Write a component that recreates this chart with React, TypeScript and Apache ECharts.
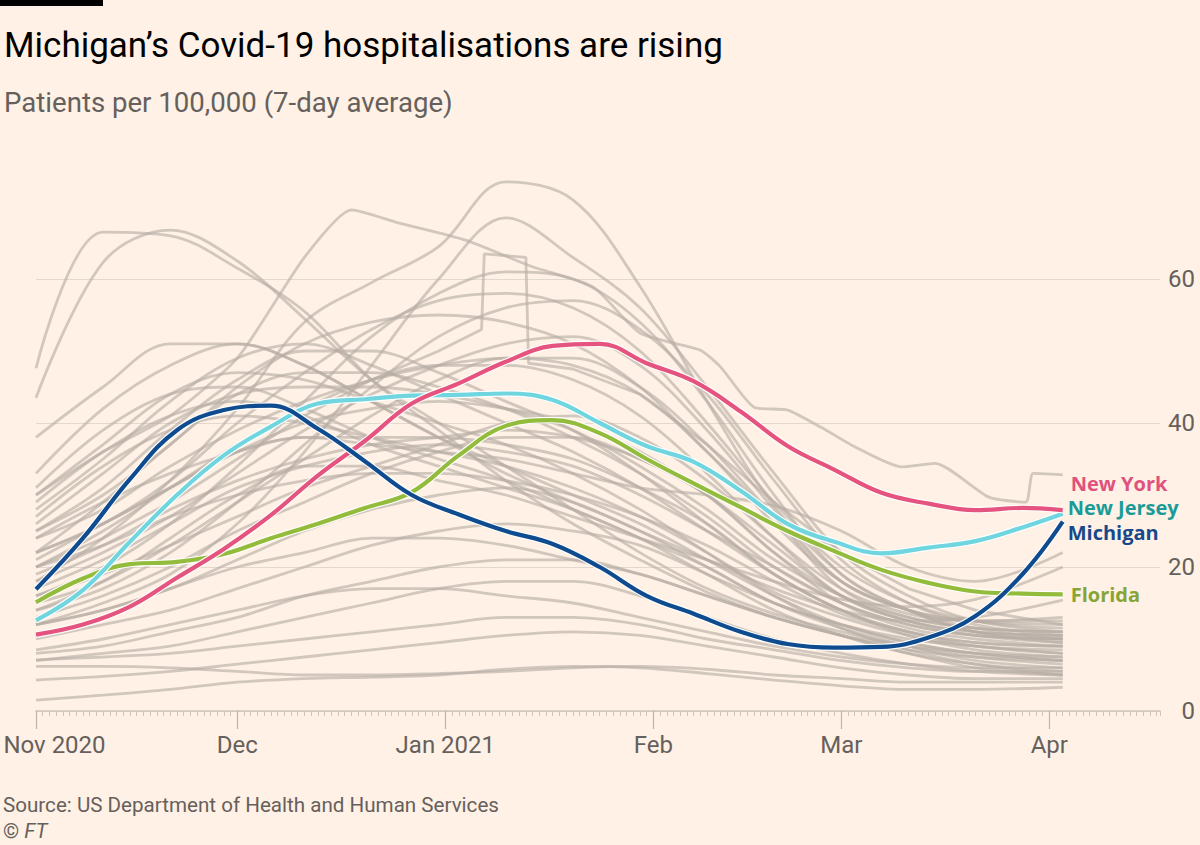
import React, { useEffect, useRef } from "react";
import * as echarts from "echarts";

// ---- axis data ----
const MONTH_TICKS = [0, 30, 61, 92, 120, 151]; // days since 1 Nov 2020
const MONTH_LABELS = ["Nov 2020", "Dec", "Jan 2021", "Feb", "Mar", "Apr"];
const X_MAX = 167.5;
const Y_TICKS = [0, 20, 40, 60];

// ---- highlighted states (days since 1 Nov 2020) ----
const HL_DAYS = [0, 7, 14, 21, 28, 35, 42, 49, 56, 63, 70, 77, 84, 91, 98, 105, 112, 119, 126, 133, 140, 147, 153];
const NEW_YORK = [10.6, 12, 14.5, 18.5, 22.5, 27.2, 32.7, 37.5, 42.7, 45.5, 48.5, 50.7, 51, 48.3, 45.8, 41.6, 36.8, 33.5, 30.3, 28.8, 27.9, 28.2, 27.9];
const NEW_JERSEY = [12.6, 16.8, 23.5, 30, 35.5, 39.5, 42.7, 43.3, 43.8, 43.9, 44.1, 43.2, 40, 36.8, 34.6, 30.6, 26, 23.5, 21.9, 22.7, 23.6, 25.5, 27.4];
const MICHIGAN = [16.9, 24, 32.2, 39, 41.8, 42.4, 39.2, 34.7, 30, 27.3, 25, 23.2, 20, 16, 13.5, 11, 9.3, 8.8, 8.9, 10.2, 13.2, 19, 26.3];
const FLORIDA = [15.1, 18.4, 20.4, 20.7, 21.8, 24, 26, 28.2, 30.4, 35.5, 39.6, 40.4, 38.6, 35, 31.6, 28.3, 25, 22.2, 19.6, 17.8, 16.6, 16.3, 16.2];

// ---- other states (grey) ----
const GREY_DAYS = [0, 10, 20, 30, 40, 50, 60, 70, 80, 90, 100, 110, 120, 130, 140, 153];
const GREY_LINES: number[][] = [
  [47.6, 66.5, 66, 61.5, 55.5, 46, 39, 32, 26, 21, 16.5, 13, 10.5, 8, 6.5, 5.5],
  [43.5, 62.3, 66.8, 62.5, 54.5, 46, 40, 34, 28, 22, 17, 13.5, 11, 9, 7.5, 6.5],
  [18, 24, 32, 42, 54, 59.5, 64.5, 73.5, 71, 59, 43, 28.5, 19, 14, 11, 9.5],
  [12, 15, 19, 26, 36, 48, 60, 68.5, 63, 56, 45, 33, 22, 16, 12.5, 11],
  [16, 20, 26, 34, 43, 52, 58, 61, 60, 54, 43, 30, 19, 14, 11, 10],
  [22, 26, 32, 40, 47, 53, 57, 58, 56, 50, 40, 29, 20, 15, 12.5, 11.5],
  [14, 17, 22, 29, 37, 45, 52, 56, 57, 53, 44, 32, 21, 15, 12, 10.5],
  [25, 30, 37, 45, 51, 54, 55, 54, 51, 45, 36, 27, 18, 14, 11.5, 10],
  [33, 42, 48, 51, 48, 43, 38, 33, 29, 25, 20, 15, 11.5, 9, 7, 6],
  [28, 35, 43, 49, 51, 48, 44, 40, 36, 31, 25, 19, 14, 11, 9.5, 9],
  [25, 31, 39, 46, 50, 50, 47, 43, 39, 33, 26, 19, 14, 10.5, 8.5, 7.5],
  [30, 37, 44, 47, 46, 43, 40, 37, 33, 28, 22, 16, 11.5, 8.5, 6.5, 5],
  [22, 29, 37, 44, 47, 47, 45, 42, 38, 33, 27, 20, 15, 12, 10.5, 10],
  [26, 33, 40, 44, 45, 45, 44, 42, 39, 34, 28, 21, 16, 13, 11.5, 11],
  [20, 25, 31, 37, 42, 46, 48, 48, 46, 41, 33, 24, 16, 12.5, 11, 10.5],
  [24, 28, 34, 39, 43, 46, 48, 49, 48, 44, 36, 26, 18, 14, 12.5, 12],
  [18, 22, 27, 33, 39, 44, 48, 51, 52, 48, 39, 28, 18, 14, 12.5, 12.5],
  [15, 18, 23, 29, 35, 41, 46, 49, 49, 45, 37, 27, 17, 13, 11.5, 11],
  [21, 26, 31, 36, 40, 42, 43, 42, 40, 36, 30, 22, 16, 12.5, 10.5, 9.5],
  [24, 29, 33, 36, 38, 38, 38, 37, 35, 31, 26, 19, 14, 11, 9, 8],
  [19, 23, 28, 32, 35, 37, 38, 39, 38, 35, 30, 23, 16, 12.5, 11, 10.5],
  [16, 19, 23, 27, 31, 34, 37, 40, 41, 38, 32, 24, 17, 13.5, 12.5, 13],
  [13, 16, 20, 25, 29, 33, 36, 38, 38, 35, 30, 22, 15, 11.5, 10, 9],
  [29, 36, 41, 43, 41, 37, 34, 31, 28, 24, 20, 15, 12, 9.5, 8, 7],
  [27, 34, 39, 41, 40, 38, 36, 34, 31, 27, 22, 16.5, 13, 10.5, 9, 8.5],
  [31, 39, 44, 45, 42, 38, 35, 32, 28, 24, 19, 14, 10.5, 8, 6, 5],
  [10, 12, 14, 17, 20, 23, 25, 26, 25, 23, 19, 15, 12, 10, 9, 8],
  [8, 9, 11, 13, 16, 18, 20, 21, 21, 19, 16, 13, 10.5, 8.5, 7.5, 7],
  [12, 14, 17, 20, 22, 24, 24, 23, 21, 19, 16, 13, 10.5, 9, 8, 7.5],
  [7, 8, 9, 11, 13, 15, 17, 18, 18, 16, 13, 10, 8, 6.5, 5.5, 5],
  [6.2, 6.2, 6, 5.5, 5, 5, 5.2, 5.5, 6, 6.2, 5.8, 5, 4.5, 4, 4, 4],
  [1.5, 2.2, 3, 4, 4.5, 4.7, 5, 5.8, 6.2, 6, 5.2, 4.3, 3.5, 3, 3, 3.3],
  [4.3, 4.8, 5.5, 6.5, 7.5, 8.5, 9.5, 10.5, 11, 10.5, 9, 7.5, 6, 5, 4.5, 4.5],
  [8.5, 10, 12, 14, 16, 17, 17, 16, 15, 13, 11, 9, 7.5, 6.5, 6, 6],
  [7.1, 7.5, 8, 9, 10, 11, 12, 13, 13, 12, 10, 8.5, 7, 6, 5.5, 5.5],
  [22, 26, 31, 36, 38, 37, 36, 35, 33, 31, 30, 28.5, 25, 20, 18, 22],
  [14, 18, 24, 30, 34, 34, 32, 30, 27, 24, 21, 18, 15.5, 14.5, 15.5, 20],
  [12, 14, 17, 21, 25, 28, 30, 31, 29, 25, 21, 17, 14, 12.5, 13, 15.4],
  [17, 21, 26, 31, 34, 36, 37, 36, 34, 30, 25, 20, 15, 12, 10.5, 10],
  [20, 23, 27, 30, 32, 33, 33, 32, 30, 27, 23, 18, 13.5, 11, 9.5, 9],
  [38, 45, 51, 51, 48, 43, 38, 34, 30, 26, 21, 16, 12, 9.5, 8, 7],
];

// grey line with a reporting jump in January
const SPIKE_DAYS = [0, 10, 20, 30, 40, 50, 60, 66.4, 66.8, 73, 73.4, 80, 90, 100, 110, 120, 130, 140, 153];
const SPIKE_VALUES = [20, 24, 29, 35, 41, 46, 50, 53, 63.5, 63, 48.3, 47.5, 44, 37, 29, 22, 17, 14, 12];

// grey line that stays high into March
const PLATEAU_DAYS = [0, 10, 20, 30, 40, 47, 54, 64, 74, 83, 90, 99, 102, 107, 112, 117, 122, 129, 134, 142, 147.5, 148.6, 153];
const PLATEAU_VALUES = [30, 36, 41, 49, 63, 69.6, 67.8, 65.4, 61.7, 58.9, 52.5, 50.1, 47.8, 42.2, 41.8, 39.4, 36.7, 33.9, 34.4, 29.7, 29, 33, 32.8];

const HIGHLIGHTS = [
  { name: "Florida", values: FLORIDA, line: "#94bc3c", label: "#86a536", offset: [6, 0] },
  { name: "New Jersey", values: NEW_JERSEY, line: "#6fd6df", label: "#1b9b98", offset: [3, -6] },
  { name: "New York", values: NEW_YORK, line: "#e5537f", label: "#e0527d", offset: [6, -27] },
  { name: "Michigan", values: MICHIGAN, line: "#0f4b8f", label: "#17498a", offset: [3, 10.5] },
];

const zip = (xs: number[], ys: number[]) => xs.map((x, i) => [x, ys[i]]);

export default function App() {
  const ref = useRef<HTMLDivElement>(null);

  useEffect(() => {
    if (!ref.current) return;
    const chart = echarts.init(ref.current, undefined, { renderer: "svg" });

    const greyStyle = { color: "rgba(182,173,164,0.62)", width: 2.8 };
    const series: any[] = [];
    GREY_LINES.forEach((vals, i) => {
      series.push({
        type: "line",
        name: "grey" + i,
        data: zip(GREY_DAYS, vals),
        symbol: "none",
        smooth: 0.35,
        silent: true,
        lineStyle: greyStyle,
        z: 1,
      });
    });
    series.push({
      type: "line",
      name: "greySpike",
      data: zip(SPIKE_DAYS, SPIKE_VALUES),
      symbol: "none",
      smooth: false,
      silent: true,
      lineStyle: greyStyle,
      z: 1,
    });
    series.push({
      type: "line",
      name: "greyPlateau",
      data: zip(PLATEAU_DAYS, PLATEAU_VALUES),
      symbol: "none",
      smooth: 0.2,
      silent: true,
      lineStyle: greyStyle,
      z: 1,
    });

    HIGHLIGHTS.forEach((h, i) => {
      const data = zip(HL_DAYS, h.values);
      series.push({
        type: "line",
        name: h.name + " halo",
        data,
        symbol: "none",
        smooth: 0.4,
        silent: true,
        lineStyle: { color: "rgba(255,255,255,0.95)", width: 6.5 },
        z: 2 + i * 2,
      });
      series.push({
        type: "line",
        name: h.name,
        data,
        symbol: "none",
        smooth: 0.4,
        silent: true,
        lineStyle: { color: h.line, width: 4.2 },
        z: 3 + i * 2,
        endLabel: {
          show: true,
          formatter: h.name,
          color: h.label,
          fontFamily: "Open Sans",
          fontWeight: 700,
          fontSize: 20,
          lineHeight: 20,
          offset: h.offset,
          distance: 2,
        },
      });
    });

    chart.setOption({
      animation: false,
      backgroundColor: "#fff1e5",
      grid: { left: 36, right: 40, top: 135, bottom: 134, containLabel: false },
      xAxis: [
        {
          type: "value",
          min: 0,
          max: X_MAX,
          interval: 1,
          position: "bottom",
          axisLine: { show: true, lineStyle: { color: "#cfc5bb", width: 1.5 } },
          axisTick: { show: true, length: 5, lineStyle: { color: "#cfc5bb", width: 1 } },
          axisLabel: { show: false },
          splitLine: { show: false },
        },
        {
          type: "value",
          min: 0,
          max: X_MAX,
          position: "bottom",
          axisLine: { show: false },
          axisTick: { show: true, length: 18, customValues: MONTH_TICKS, lineStyle: { color: "#bdb3a9", width: 1.2 } },
          axisLabel: {
            show: true,
            customValues: MONTH_TICKS,
            margin: 22,
            fontFamily: "Roboto",
            fontSize: 24,
            color: "#66605c",
            formatter: (v: number) => {
              const i = MONTH_TICKS.indexOf(Math.round(v));
              if (i === 0) return "{first|" + MONTH_LABELS[0] + "}";
              return i >= 0 ? MONTH_LABELS[i] : "";
            },
            rich: {
              first: { fontFamily: "Roboto", fontSize: 24, color: "#66605c", padding: [0, 0, 0, 37] },
            },
          },
          splitLine: { show: false },
        },
      ],
      yAxis: {
        type: "value",
        min: 0,
        max: 80,
        interval: 20,
        position: "right",
        axisLine: { show: false },
        axisTick: { show: false },
        axisLabel: {
          showMaxLabel: false,
          align: "right",
          margin: 35,
          fontFamily: "Roboto",
          fontSize: 24,
          color: "#66605c",
          formatter: (v: number) => (Y_TICKS.indexOf(v) >= 0 ? String(v) : ""),
        },
        splitLine: { show: true, showMaxLine: false, lineStyle: { color: "#e3d8cd", width: 1.2 } },
      },
      graphic: [
        { type: "rect", shape: { x: 0, y: 0, width: 103, height: 6 }, style: { fill: "#000000" } },
        {
          type: "text",
          style: {
            text: "Michigan’s Covid-19 hospitalisations are rising",
            x: 4,
            y: 45,
            verticalAlign: "middle",
            fill: "#000000",
            font: "35px Roboto",
          },
        },
        {
          type: "text",
          style: {
            text: "Patients per 100,000 (7-day average)",
            x: 4,
            y: 102,
            verticalAlign: "middle",
            fill: "#66605c",
            font: "27.6px Roboto",
          },
        },
        {
          type: "text",
          style: {
            text: "Source: US Department of Health and Human Services",
            x: 3,
            y: 805,
            verticalAlign: "middle",
            fill: "#66605c",
            font: "20.6px Roboto",
          },
        },
        {
          type: "text",
          style: {
            text: "© {i|FT}",
            x: 3,
            y: 831,
            verticalAlign: "middle",
            fill: "#66605c",
            font: "20.6px Roboto",
            rich: { i: { fontStyle: "italic", fontFamily: "Roboto", fontSize: 20.6, fill: "#66605c" } },
          },
        },
      ],
      series,
    });

    return () => chart.dispose();
  }, []);

  return (
    <div style={{ position: "fixed", left: 0, top: 0, width: 1200, height: 845, background: "#fff1e5" }}>
      <div ref={ref} style={{ width: 1200, height: 845 }} />
    </div>
  );
}
